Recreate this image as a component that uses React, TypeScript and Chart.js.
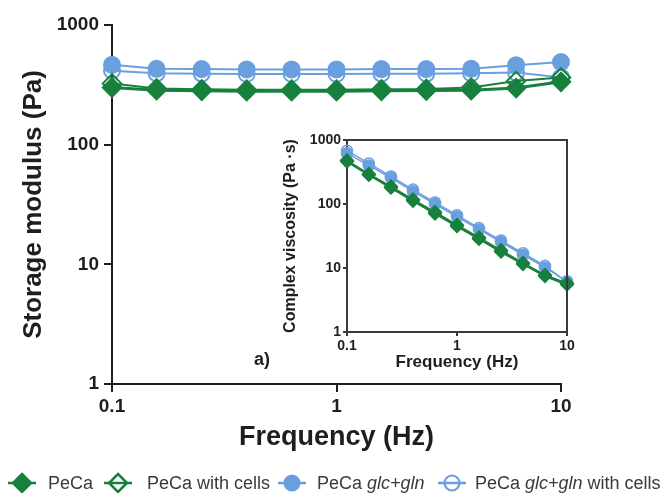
import React, { useEffect, useRef } from 'react';
import { Chart, registerables } from 'chart.js';

Chart.register(...registerables);

// ---------- data ----------
const frequency = [0.1, 0.158, 0.251, 0.398, 0.631, 1, 1.585, 2.512, 3.981, 6.31, 10];

const seriesNames = ['PeCa', 'PeCa with cells', 'PeCa glc+gln', 'PeCa glc+gln with cells'];

// Storage modulus (Pa) - main plot
const storagePeCa = [300, 285, 282, 280, 280, 280, 282, 283, 285, 297, 335];
const storagePeCaCells = [325, 295, 290, 288, 288, 288, 290, 292, 300, 340, 365];
const storageGlc = [465, 430, 428, 425, 425, 425, 428, 428, 430, 462, 490];
const storageGlcCells = [415, 395, 392, 390, 390, 390, 392, 392, 395, 400, 365];

// Complex viscosity (Pa·s) - inset
const viscPeCa = [460, 285, 180, 112, 71, 45, 28.5, 18, 11.5, 7.5, 5.5];
const viscPeCaCells = [480, 295, 188, 118, 75, 47, 30, 19, 12, 7.8, 5.8];
const viscGlc = [620, 400, 255, 158, 100, 63, 40, 25.5, 16, 10.2, 6.2];
const viscGlcCells = [680, 430, 270, 168, 106, 67, 42, 27, 17, 10.8, 6.0];

const xTickValues = [0.1, 1, 10];
const yTickValues = [1, 10, 100, 1000];

// ---------- style ----------
const GREEN = '#17803d';
const BLUE = '#6a9fdf';
const AXIS = '#1e1e1e';
const INSET_AXIS = '#3a3a3a';
const FONT = '"Liberation Sans", Arial, Helvetica, sans-serif';

type Sty = { color: string; shape: string; filled: boolean; rMul: number; lw: number };
const seriesStyles: Sty[] = [
  { color: GREEN, shape: 'rectRot', filled: true, rMul: 1.15, lw: 3 },
  { color: GREEN, shape: 'rectRot', filled: false, rMul: 1.15, lw: 2 },
  { color: BLUE, shape: 'circle', filled: true, rMul: 1, lw: 2 },
  { color: BLUE, shape: 'circle', filled: false, rMul: 1, lw: 2 },
];

function buildDatasets(series: number[][], radius: number, lwScale: number) {
  return series.map((vals, i) => {
    const s = seriesStyles[i];
    return {
      label: seriesNames[i],
      data: frequency.map((f, j) => ({ x: f, y: vals[j] })),
      borderColor: s.color,
      backgroundColor: s.color,
      borderWidth: s.lw * lwScale,
      pointStyle: s.shape,
      pointRadius: radius * s.rMul,
      pointBorderWidth: 2 * lwScale,
      pointBorderColor: s.color,
      pointBackgroundColor: s.filled ? s.color : 'rgba(255,255,255,0)',
      tension: 0,
      clip: false,
    };
  });
}

function logAxis(opts: {
  axis: 'x' | 'y';
  min: number;
  max: number;
  values: number[];
  size: number;
  tickFont: number;
  tickLength: number;
  tickPad: number;
  title: string;
  titleFont: number;
  titlePad: any;
  color: string;
  width: number;
}) {
  return {
    type: 'logarithmic',
    position: opts.axis === 'x' ? 'bottom' : 'left',
    min: opts.min,
    max: opts.max,
    afterBuildTicks: (s: any) => {
      s.ticks = opts.values.map((v) => ({ value: v }));
    },
    afterFit: (s: any) => {
      if (opts.axis === 'x') s.height = opts.size;
      else s.width = opts.size;
    },
    grid: {
      drawOnChartArea: false,
      drawTicks: true,
      tickLength: opts.tickLength,
      color: opts.color,
      lineWidth: opts.width,
    },
    border: { display: true, color: opts.color, width: opts.width },
    ticks: {
      autoSkip: false,
      maxRotation: 0,
      padding: opts.tickPad,
      color: AXIS,
      font: { family: FONT, size: opts.tickFont, weight: 'bold' },
      callback: (v: any) => String(v),
    },
    title: {
      display: true,
      text: opts.title,
      color: AXIS,
      font: { family: FONT, size: opts.titleFont, weight: 'bold' },
      padding: opts.titlePad,
    },
  };
}

const insetBox = {
  id: 'insetBox',
  afterDatasetsDraw(chart: any) {
    const { ctx, chartArea } = chart;
    ctx.save();
    ctx.strokeStyle = INSET_AXIS;
    ctx.lineWidth = 2;
    ctx.beginPath();
    ctx.moveTo(chartArea.left, chartArea.top);
    ctx.lineTo(chartArea.right, chartArea.top);
    ctx.lineTo(chartArea.right, chartArea.bottom);
    ctx.stroke();
    ctx.restore();
  },
};

function LegendMarker({ idx }: { idx: number }) {
  const s = seriesStyles[idx];
  const fill = s.filled ? s.color : 'none';
  return (
    <svg width={30} height={22} style={{ display: 'block' }}>
      <line x1={1} y1={11} x2={29} y2={11} stroke={s.color} strokeWidth={2.5} />
      {s.shape === 'rectRot' ? (
        <polygon points="15,2 24,11 15,20 6,11" fill={fill} stroke={s.color} strokeWidth={2.5} />
      ) : (
        <circle cx={15} cy={11} r={7.5} fill={fill} stroke={s.color} strokeWidth={2.2} />
      )}
    </svg>
  );
}

export default function App() {
  const mainRef = useRef<HTMLCanvasElement>(null);
  const insetRef = useRef<HTMLCanvasElement>(null);

  useEffect(() => {
    const main = new Chart(mainRef.current as HTMLCanvasElement, {
      type: 'line',
      data: {
        datasets: buildDatasets([storagePeCa, storagePeCaCells, storageGlc, storageGlcCells], 8, 1) as any,
      },
      options: {
        animation: false,
        responsive: false,
        maintainAspectRatio: false,
        layout: { padding: { top: 25, right: 99, left: 0, bottom: 0 } },
        plugins: { legend: { display: false }, tooltip: { enabled: false } },
        scales: {
          x: logAxis({
            axis: 'x', min: 0.1, max: 10, values: xTickValues, size: 109,
            tickFont: 19, tickLength: 8, tickPad: 3,
            title: 'Frequency (Hz)', titleFont: 27, titlePad: { top: 0, bottom: 39 },
            color: AXIS, width: 2,
          }) as any,
          y: logAxis({
            axis: 'y', min: 1, max: 1000, values: yTickValues, size: 112,
            tickFont: 19, tickLength: 8, tickPad: 5,
            title: 'Storage modulus (Pa)', titleFont: 26, titlePad: { top: 18, bottom: 0 },
            color: AXIS, width: 2,
          }) as any,
        },
      } as any,
    });

    const inset = new Chart(insetRef.current as HTMLCanvasElement, {
      type: 'line',
      data: {
        datasets: buildDatasets([viscPeCa, viscPeCaCells, viscGlc, viscGlcCells], 5.5, 0.75) as any,
      },
      options: {
        animation: false,
        responsive: false,
        maintainAspectRatio: false,
        layout: { padding: { top: 20, right: 13, left: 0, bottom: 0 } },
        plugins: { legend: { display: false }, tooltip: { enabled: false } },
        scales: {
          x: logAxis({
            axis: 'x', min: 0.1, max: 10, values: xTickValues, size: 48,
            tickFont: 14, tickLength: 4, tickPad: 2,
            title: 'Frequency (Hz)', titleFont: 17, titlePad: { top: 0, bottom: 7 },
            color: INSET_AXIS, width: 2,
          }) as any,
          y: logAxis({
            axis: 'y', min: 1, max: 1000, values: yTickValues, size: 87,
            tickFont: 14, tickLength: 4, tickPad: 2,
            title: 'Complex viscosity (Pa ·s)', titleFont: 16, titlePad: { top: 21, bottom: 0 },
            color: INSET_AXIS, width: 2,
          }) as any,
        },
      } as any,
      plugins: [insetBox],
    });

    return () => {
      main.destroy();
      inset.destroy();
    };
  }, []);

  const legendItems = [
    { marker: 22, text: 48, parts: [['PeCa', false]] },
    { marker: 118, text: 147, parts: [['PeCa with cells', false]] },
    { marker: 292, text: 317, parts: [['PeCa ', false], ['glc+gln', true]] },
    { marker: 452, text: 475, parts: [['PeCa ', false], ['glc+gln', true], [' with cells', false]] },
  ];

  return (
    <div style={{ position: 'fixed', left: 0, top: 0, width: 660, height: 493, background: '#fff', overflow: 'hidden' }}>
      <canvas ref={mainRef} width={660} height={493} style={{ position: 'absolute', left: 0, top: 0 }} />
      <div style={{ position: 'absolute', left: 260, top: 120, width: 320, height: 260 }}>
        <canvas ref={insetRef} width={320} height={260} style={{ position: 'absolute', left: 0, top: 0 }} />
      </div>
      <div
        style={{
          position: 'absolute', left: 254, top: 349, fontFamily: FONT, fontWeight: 'bold',
          fontSize: 18, color: AXIS, lineHeight: '20px',
        }}
      >
        a)
      </div>
      {legendItems.map((it, i) => (
        <React.Fragment key={i}>
          <div style={{ position: 'absolute', left: it.marker - 15, top: 472 }}>
            <LegendMarker idx={i} />
          </div>
          <div
            style={{
              position: 'absolute', left: it.text, top: 472, fontFamily: FONT, fontSize: 18,
              color: '#3a3a3a', lineHeight: '22px', whiteSpace: 'nowrap',
            }}
          >
            {it.parts.map((p, k) => (
              <span key={k} style={{ fontStyle: p[1] ? 'italic' : 'normal' }}>{p[0] as string}</span>
            ))}
          </div>
        </React.Fragment>
      ))}
    </div>
  );
}
